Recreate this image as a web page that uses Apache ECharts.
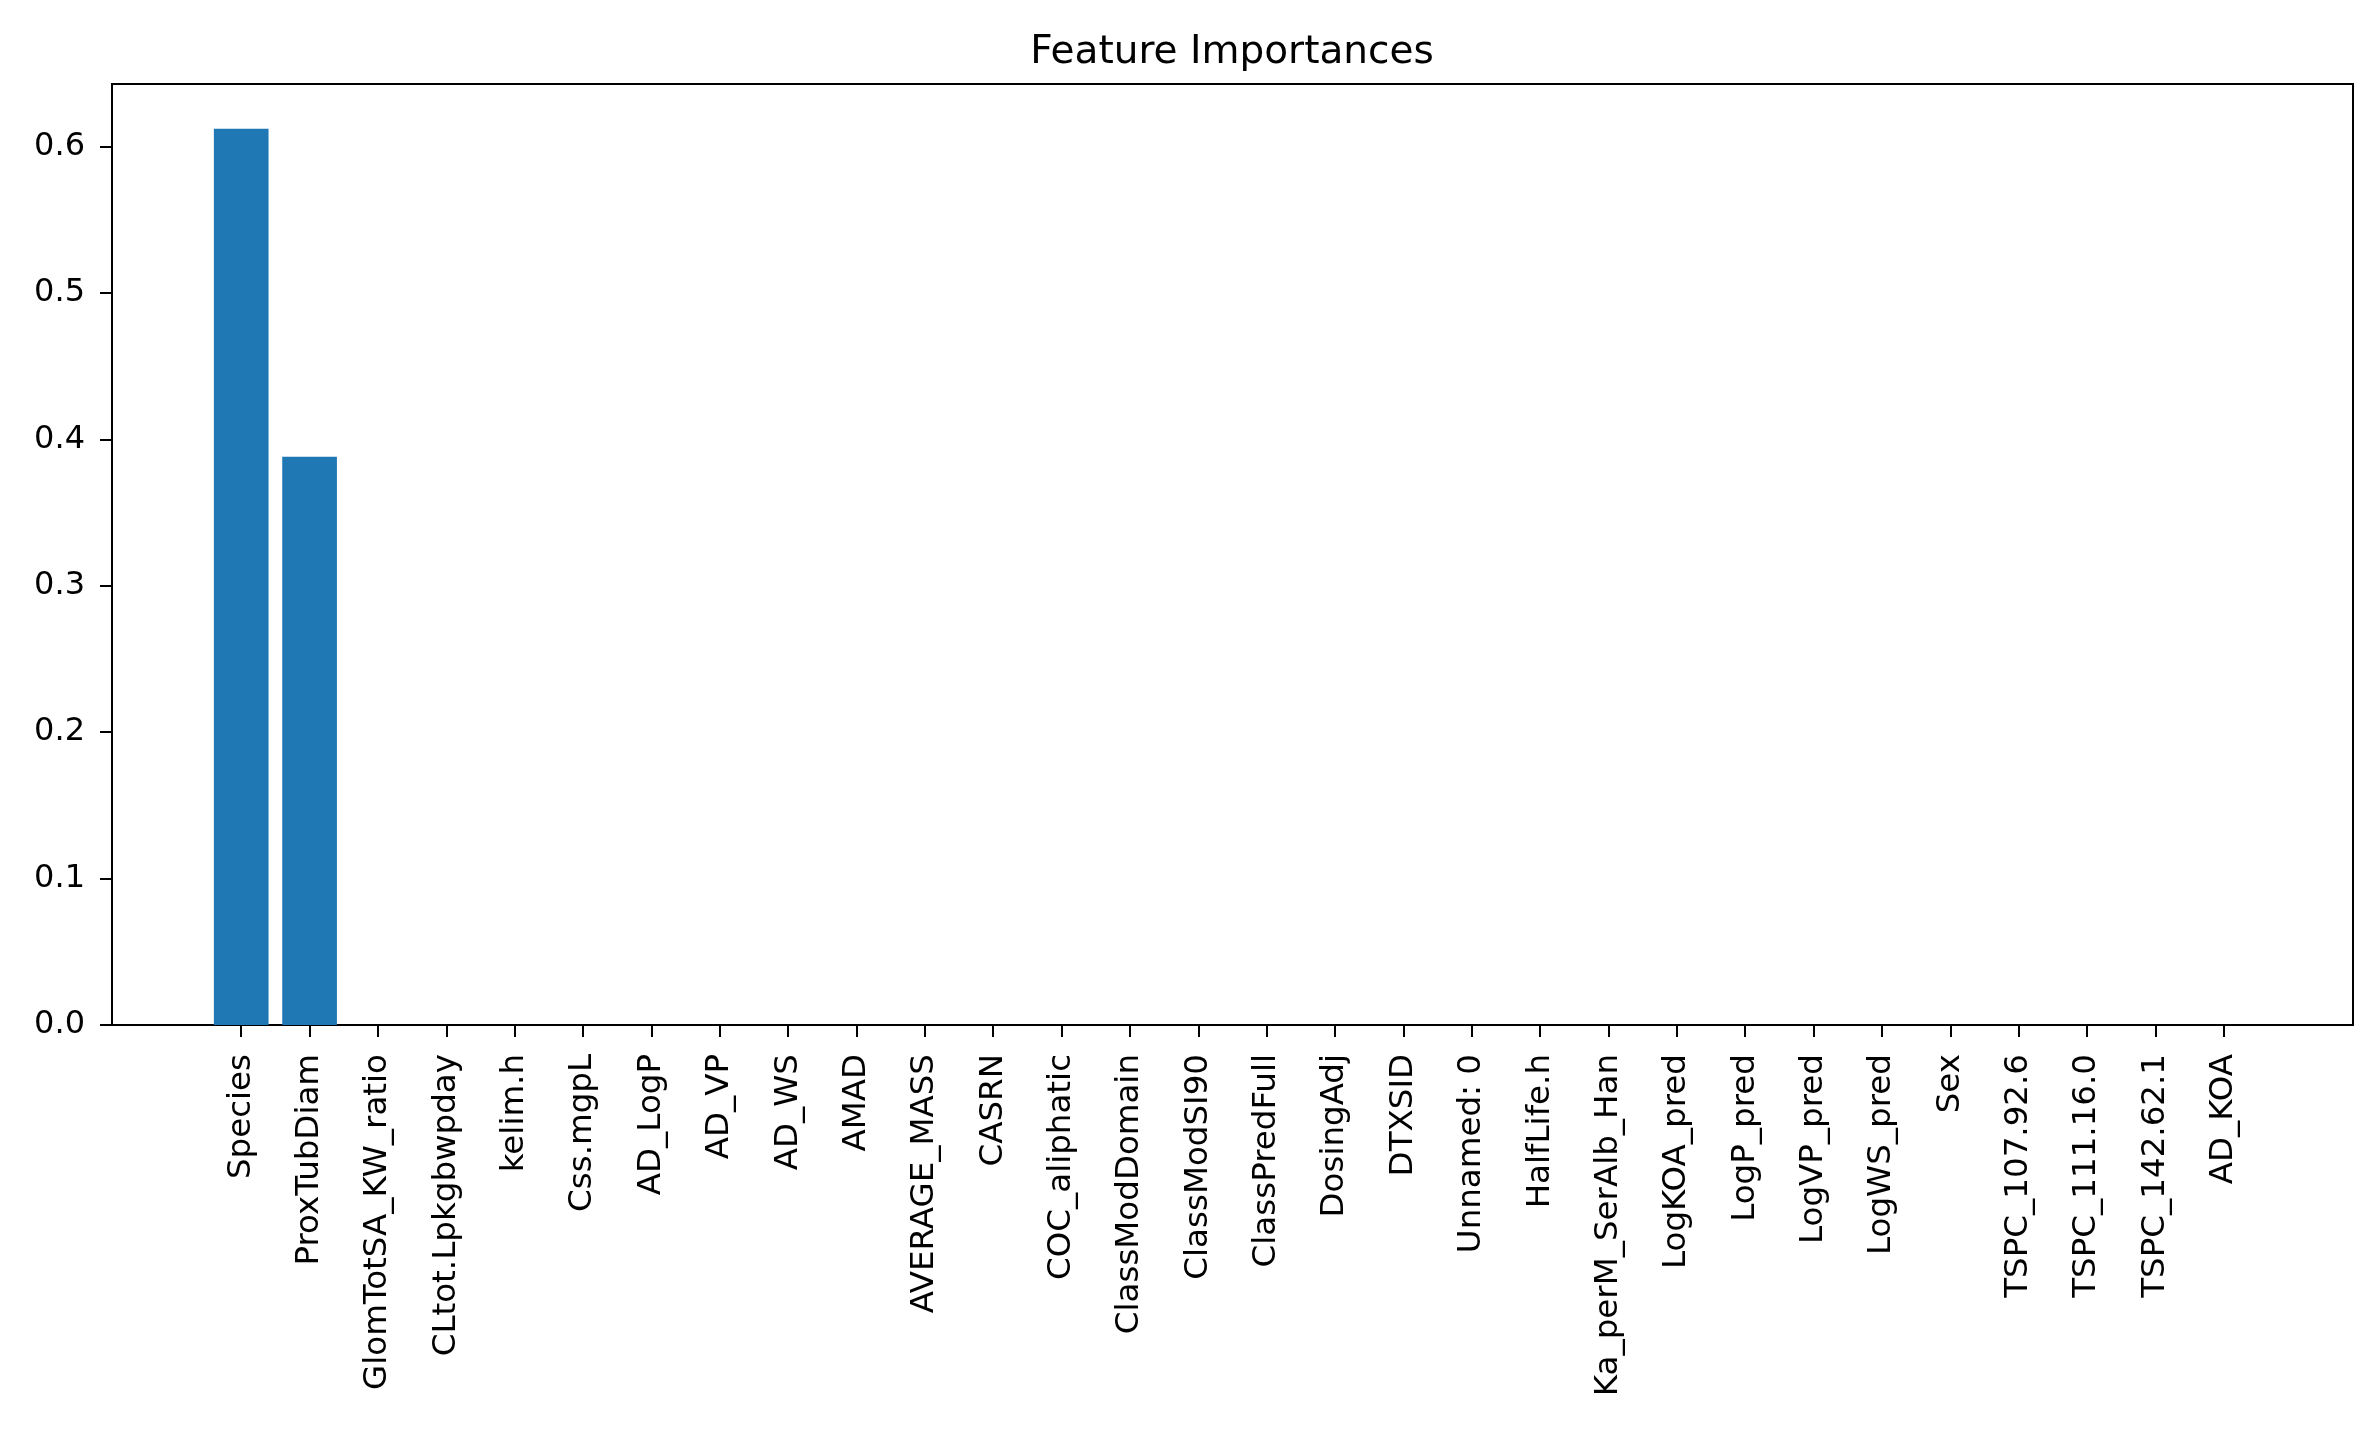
<!DOCTYPE html>
<html>
<head>
<meta charset="utf-8">
<script src="https://cdn.jsdelivr.net/npm/echarts@6/dist/echarts.min.js"></script>
<style>
html,body{margin:0;padding:0;background:#fff;}
#chart{width:2378px;height:1432px;}
</style>
</head>
<body>
<div id="chart"></div>
<script>
const categories = [
  'Species', 'ProxTubDiam', 'GlomTotSA_KW_ratio', 'CLtot.Lpkgbwpday', 'kelim.h',
  'Css.mgpL', 'AD_LogP', 'AD_VP', 'AD_WS', 'AMAD', 'AVERAGE_MASS', 'CASRN',
  'COC_aliphatic', 'ClassModDomain', 'ClassModSI90', 'ClassPredFull', 'DosingAdj',
  'DTXSID', 'Unnamed: 0', 'HalfLife.h', 'Ka_perM_SerAlb_Han', 'LogKOA_pred',
  'LogP_pred', 'LogVP_pred', 'LogWS_pred', 'Sex', 'TSPC_107.92.6', 'TSPC_111.16.0',
  'TSPC_142.62.1', 'AD_KOA'
];
const importances = [
  0.612, 0.388, 0, 0, 0,
  0, 0, 0, 0, 0, 0, 0,
  0, 0, 0, 0, 0,
  0, 0, 0, 0, 0,
  0, 0, 0, 0, 0, 0,
  0, 0
];
const yTicks = [0, 0.1, 0.2, 0.3, 0.4, 0.5, 0.6];
const chartTitle = 'Feature Importances';

const n = categories.length;
const xIdx = categories.map((_, i) => i);
// matplotlib-like auto limits (5% margins)
const span = (n - 1) + 0.8;
const xMin = -0.4 - 0.05 * span;
const xMax = (n - 1) + 0.4 + 0.05 * span;
const yMax = Math.max(...importances) * 1.05;

const FONT = 'DejaVu Sans';
const chart = echarts.init(document.getElementById('chart'), null, {renderer: 'canvas'});
chart.setOption({
  animation: false,
  backgroundColor: '#ffffff',
  title: {
    text: chartTitle,
    left: 1232,
    top: 33,
    padding: 0,
    textAlign: 'center',
    textStyle: {fontFamily: FONT, fontSize: 39, fontWeight: 'normal', color: '#000', lineHeight: 39}
  },
  grid: {
    left: 112, right: 25, top: 84, bottom: 407,
    show: true, borderColor: '#000', borderWidth: 2, backgroundColor: 'transparent',
    containLabel: false
  },
  xAxis: {
    type: 'value',
    min: xMin,
    max: xMax,
    axisLine: {show: true, onZero: false, lineStyle: {color: '#000', width: 2}},
    splitLine: {show: false},
    axisTick: {show: true, customValues: xIdx, length: 12, lineStyle: {color: '#000', width: 2}},
    axisLabel: {
      show: true, customValues: xIdx, rotate: 90, margin: 29,
      fontFamily: FONT, fontSize: 32.5, color: '#000',
      formatter: v => categories[Math.round(v)]
    }
  },
  yAxis: {
    type: 'value',
    min: 0,
    max: yMax,
    axisLine: {show: true, onZero: false, lineStyle: {color: '#000', width: 2}},
    splitLine: {show: false},
    axisTick: {show: true, customValues: yTicks, length: 12, lineStyle: {color: '#000', width: 2}},
    axisLabel: {
      show: true, customValues: yTicks, margin: 27,
      fontFamily: FONT, fontSize: 32, color: '#000',
      formatter: v => v.toFixed(1)
    }
  },
  series: [{
    type: 'bar',
    data: xIdx.map(i => [i, importances[i]]),
    barWidth: '80%',
    itemStyle: {color: '#1f77b4'}
  }]
});
</script>
</body>
</html>
